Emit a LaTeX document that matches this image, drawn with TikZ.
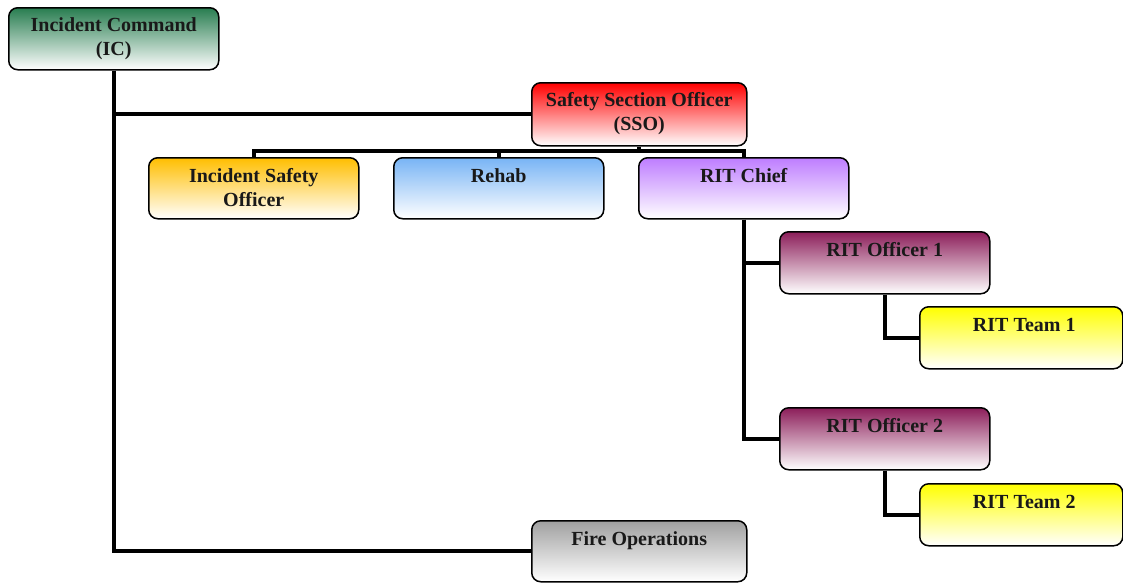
\documentclass[tikz,border=0pt]{standalone}
\usepackage{fontspec}
\setmainfont{Liberation Serif}
\usetikzlibrary{backgrounds}
\definecolor{icgreen}{RGB}{40,125,80}
\definecolor{ssored}{RGB}{255,0,0}
\definecolor{isogold}{RGB}{255,190,0}
\definecolor{rehabblue}{RGB}{120,180,245}
\definecolor{chiefpurple}{RGB}{190,125,255}
\definecolor{offmaroon}{RGB}{140,30,90}
\definecolor{teamyellow}{RGB}{255,255,0}
\definecolor{fogray}{RGB}{160,160,160}
\begin{document}
\begin{tikzpicture}[x=1pt,y=-1pt,
  orgbox/.style={draw=black, line width=1.5pt, rounded corners=9pt, inner sep=0pt,
    anchor=north west, bottom color=white, minimum width=210pt, minimum height=62pt},
  lbl/.style={anchor=base, inner sep=0pt, font=\fontsize{20}{24}\selectfont\bfseries, text=black!90},
  conn/.style={line width=4pt, line join=miter, draw=black}
]
\useasboundingbox (0,0) rectangle (1123,582);
% boxes
\node[orgbox, top color=icgreen] (ic) at (8,7) {};
\node[orgbox, top color=ssored, minimum width=215pt, minimum height=63pt] (sso) at (531,82) {};
\node[orgbox, top color=isogold, minimum height=61pt] (iso) at (148,157) {};
\node[orgbox, top color=rehabblue, minimum height=61pt] (rehab) at (393,157) {};
\node[orgbox, top color=chiefpurple, minimum height=61pt] (chief) at (638,157) {};
\node[orgbox, top color=offmaroon] (o1) at (779,231) {};
\node[orgbox, top color=teamyellow, minimum width=203pt] (t1) at (919,306) {};
\node[orgbox, top color=offmaroon] (o2) at (779,407) {};
\node[orgbox, top color=teamyellow, minimum width=203pt] (t2) at (919,483) {};
\node[orgbox, top color=fogray, minimum width=215pt, minimum height=61pt] (fo) at (531,520) {};
\coordinate (bus) at (0,151);
% connectors
\begin{scope}[on background layer]
\draw[conn] (ic.south) |- (sso.west);
\draw[conn] (ic.south) |- (fo.west);
\draw[conn] (iso.north) -- (iso.north |- bus) -- (chief.north |- bus) -- (chief.north);
\draw[conn] (rehab.north) -- (rehab.north |- bus);
\draw[conn] (sso.south) -- (sso.south |- bus);
\draw[conn] (chief.south) |- (o1.west);
\draw[conn] (chief.south) |- (o2.west);
\draw[conn] (o1.south) |- (t1.west);
\draw[conn] (o2.south) |- (t2.west);
\end{scope}
% labels
\node[lbl] (ic-t) at ([yshift=-24pt]ic.north) {\begin{tabular}[t]{@{}c@{}}Incident Command\\(IC)\end{tabular}};
\node[lbl] (sso-t) at ([yshift=-24.5pt]sso.north) {\begin{tabular}[t]{@{}c@{}}Safety Section Officer\\(SSO)\end{tabular}};
\node[lbl] (iso-t) at ([yshift=-25pt]iso.north) {\begin{tabular}[t]{@{}c@{}}Incident Safety\\Officer\end{tabular}};
\node[lbl] (rehab-t) at ([yshift=-25pt]rehab.north) {Rehab};
\node[lbl] (chief-t) at ([yshift=-25pt]chief.north) {RIT Chief};
\node[lbl] (o1-t) at ([yshift=-25pt]o1.north) {RIT Officer 1};
\node[lbl] (t1-t) at ([yshift=-25pt,xshift=3pt]t1.north) {RIT Team 1};
\node[lbl] (o2-t) at ([yshift=-25pt]o2.north) {RIT Officer 2};
\node[lbl] (t2-t) at ([yshift=-25pt,xshift=3pt]t2.north) {RIT Team 2};
\node[lbl] (fo-t) at ([yshift=-25pt]fo.north) {Fire Operations};
\end{tikzpicture}
\end{document}
